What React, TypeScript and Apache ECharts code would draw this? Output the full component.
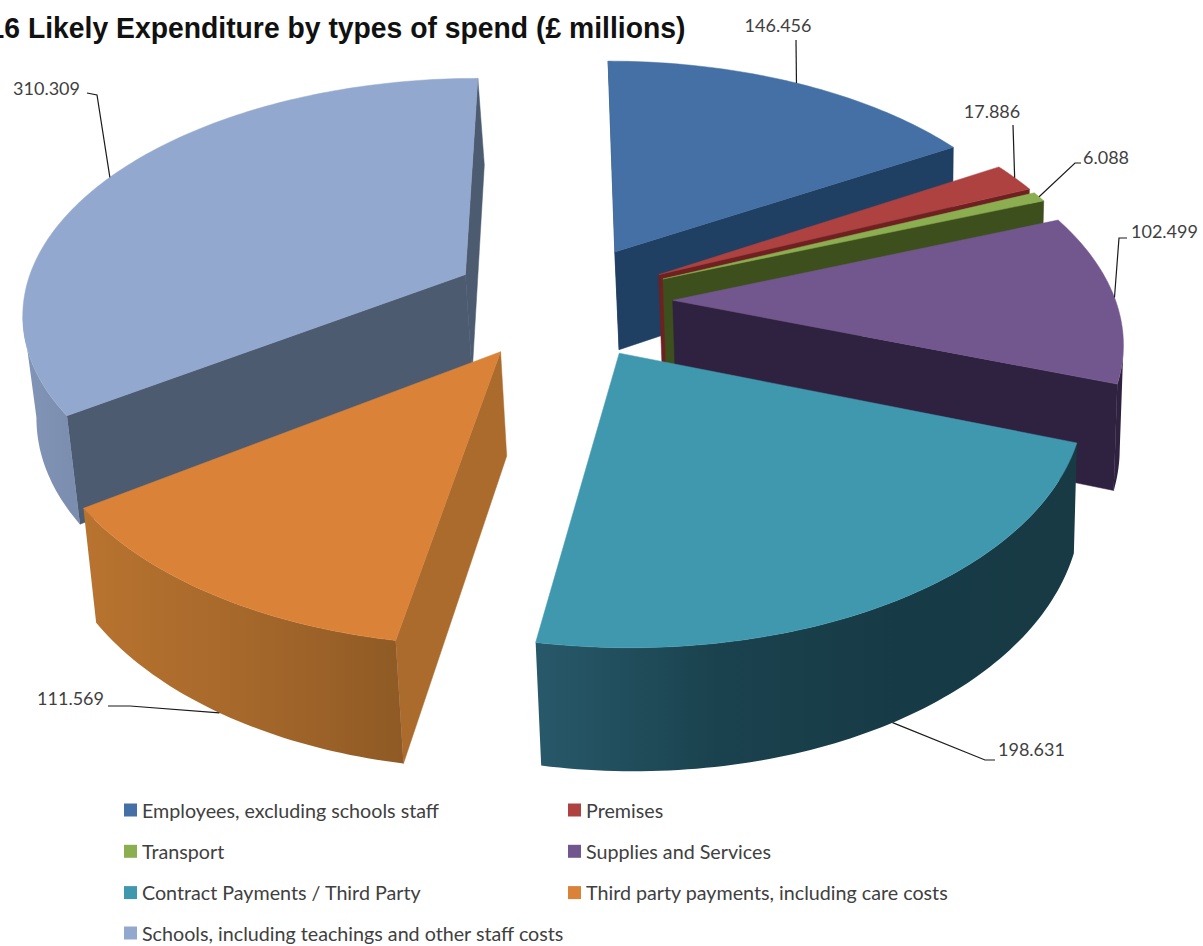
import React, { useEffect, useRef } from "react";
import * as echarts from "echarts";

const titleText = "16 Likely Expenditure by types of spend (£ millions)";
const categories = [
  "Employees, excluding schools staff",
  "Premises",
  "Transport",
  "Supplies and Services",
  "Contract Payments / Third Party",
  "Third party payments, including care costs",
  "Schools, including teachings and other staff costs",
];
const values = [146.456, 17.886, 6.088, 102.499, 198.631, 111.569, 310.309];

const topColors = ["#4470a5", "#ad4240", "#8aae50", "#72578f", "#4098af", "#d98238", "#92a8cf"];
const wallColors = ["#1f3f63", "#6e2120", "#3d4f1c", "#2f2140", "#1c4653", "#ab6b2d", "#4c5b70"];
const rimStops = [
  ["#1f3f63", "#1f3f63"],
  ["#6e2120", "#6e2120"],
  ["#3d4f1c", "#3d4f1c"],
  ["#2f2140", "#2f2140"],
  ["#28596a", "#1a424e", "#173b46", "#173a45"],
  ["#b8732f", "#a6682b", "#8f5a25"],
  ["#8295b8", "#7a8dae"],
];
const drawOrder = [2, 3, 4, 5, 7, 6, 1];
const labelAnchorOnBase = [false, false, false, false, true, true, false];
const leaderBends = [
  [[796, 40]],
  [[1013, 125]],
  [[1075, 163], [1081, 163]],
  [[1119, 238], [1127, 238]],
  [[985, 760], [995, 760]],
  [[130, 706], [108, 706]],
  [[97, 95], [87, 93]],
];
const labelAt: [number, number, string][] = [
  [778, 25, "center"],
  [992, 111, "center"],
  [1083, 157, "left"],
  [1131, 231, "left"],
  [998, 749, "left"],
  [104, 698, "right"],
  [80, 88, "right"],
];

// Perspective of the plane the pie lies on
const X0 = 562, Y0 = 301, A = 443, B = 233, K = 0.15, EXPLODE = 0.25, DEPTH = 101;
const VANISH_X = 888, CONVERGE = 0.0158;
const TOTAL = values.reduce((a, b) => a + b, 0);

const project = (u: number, v: number, base = false): number[] => {
  const s = 1 / (1 + K * v);
  const x = X0 + A * u * s;
  const y = Y0 - B * v * s;
  return base ? [x + (VANISH_X - x) * CONVERGE, y + DEPTH * s] : [x, y];
};

const sliceAngles = (index: number) => {
  let before = 0;
  for (let i = 0; i < index; i++) before += values[i];
  const a0 = (before / TOTAL) * Math.PI * 2;
  const a1 = ((before + values[index]) / TOTAL) * Math.PI * 2;
  return [a0, a1];
};

const renderSlice = (index: number) => (): any => {
  const [a0, a1] = sliceAngles(index);
  const mid = (a0 + a1) / 2;
  const ox = EXPLODE * Math.sin(mid);
  const oy = EXPLODE * Math.cos(mid);
  const n = Math.max(4, Math.ceil(((a1 - a0) * 180) / Math.PI));
  const arc: number[][] = [];
  for (let i = 0; i <= n; i++) {
    const a = a0 + ((a1 - a0) * i) / n;
    arc.push([ox + Math.sin(a), oy + Math.cos(a)]);
  }
  const apex = [ox, oy];
  const children: any[] = [];
  const poly = (pts: number[][], fill: any) =>
    children.push({
      type: "polygon",
      shape: { points: pts },
      style: { fill, stroke: typeof fill === "string" ? fill : undefined, lineWidth: 0.5 },
    });
  const wall = (p: number[], q: number[]) => {
    const a = project(p[0], p[1]);
    const b = project(q[0], q[1]);
    if (b[0] < a[0]) {
      poly([a, b, project(q[0], q[1], true), project(p[0], p[1], true)], wallColors[index]);
    }
  };
  wall(apex, arc[0]);
  wall(arc[n], apex);

  // Outer rim: only the stretch that runs right to left on screen faces the viewer
  const front: number[][] = [];
  for (let i = 0; i < n; i++) {
    const a = project(arc[i][0], arc[i][1]);
    const b = project(arc[i + 1][0], arc[i + 1][1]);
    if (b[0] < a[0]) {
      if (!front.length) front.push(arc[i]);
      front.push(arc[i + 1]);
    }
  }
  if (front.length) {
    const stops = rimStops[index];
    const fill = new echarts.graphic.LinearGradient(
      0, 0, 1, 0,
      stops.map((color, i) => ({ offset: i / (stops.length - 1), color })),
    );
    const top = front.map((p) => project(p[0], p[1]));
    const bottom = front.map((p) => project(p[0], p[1], true)).reverse();
    poly([...top, ...bottom], fill);
  }
  poly([apex, ...arc].map((p) => project(p[0], p[1])), topColors[index]);

  const anchorPlane = [ox + Math.sin(mid), oy + Math.cos(mid)];
  const anchor = project(anchorPlane[0], anchorPlane[1], labelAnchorOnBase[index]);
  children.push({
    type: "polyline",
    shape: { points: [anchor, ...leaderBends[index]] },
    style: { stroke: "#1a1a1a", lineWidth: 1.2, fill: "none" },
  });
  const [lx, ly, align] = labelAt[index];
  children.push({
    type: "text",
    x: lx,
    y: ly,
    style: {
      text: values[index].toFixed(3),
      fill: "#3f3f3f",
      font: "18px Lato",
      align,
      verticalAlign: "middle",
    },
  });
  return { type: "group", children };
};

const legendStyle = {
  orient: "vertical" as const,
  icon: "rect",
  itemWidth: 13,
  itemHeight: 13,
  itemGap: 21.3,
  selectedMode: false,
  textStyle: { fontFamily: "Lato", fontSize: 19.7, color: "#404040" },
};

export default function App() {
  const ref = useRef<HTMLDivElement>(null);
  useEffect(() => {
    document.body.style.margin = "0";
    const chart = echarts.init(ref.current!, undefined, { renderer: "svg" });
    chart.setOption({
      animation: false,
      backgroundColor: "#ffffff",
      graphic: [
        {
          type: "text",
          x: -11.4,
          y: 13,
          scaleX: 0.944,
          z: 100,
          style: {
            text: titleText,
            fill: "#111111",
            font: 'bold 30px "Liberation Sans"',
          },
        },
      ],
      legend: [
        { ...legendStyle, left: 119, top: 795, data: [categories[0], categories[2], categories[4]] },
        { ...legendStyle, left: 119, top: 918, data: [categories[6]] },
        { ...legendStyle, left: 563, top: 795, data: [categories[1], categories[3], categories[5]] },
      ],
      series: categories.map((name, i) => ({
        type: "custom",
        name,
        coordinateSystem: "none",
        z: drawOrder[i],
        silent: true,
        itemStyle: { color: topColors[i] },
        data: [[values[i]]],
        renderItem: renderSlice(i),
      })),
    });
    return () => chart.dispose();
  }, []);
  return <div ref={ref} style={{ width: 1203, height: 946 }} />;
}
